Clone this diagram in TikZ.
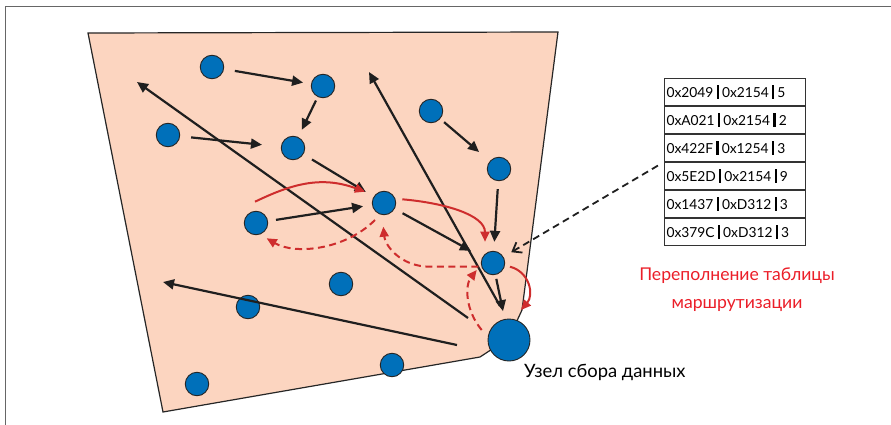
\documentclass[tikz,border=0pt]{standalone}
\usepackage{fontspec}
\setmainfont{Lato}
\usetikzlibrary{arrows.meta}
\definecolor{peach}{RGB}{252,213,192}
\definecolor{nodeblue}{RGB}{0,112,186}
\definecolor{redarr}{RGB}{206,45,45}
\definecolor{redtext}{RGB}{235,30,40}
\newcommand{\sepbar}{\hspace{3.2pt}\rule[-1.5pt]{2.2pt}{13.5pt}\hspace{3.2pt}}
\begin{document}
\begin{tikzpicture}[x=1pt,y=-1pt,
  dot/.style={circle,fill=nodeblue,draw=black!85,line width=0.9pt,minimum size=23.5pt,inner sep=0pt},
  bigdot/.style={dot,minimum size=42pt},
  blk/.style={line width=2.2pt,draw=black!88,-{Triangle[length=11pt,width=10pt]}},
  redsolid/.style={line width=2pt,draw=redarr,-{Triangle[length=10pt,width=9pt]}},
  reddash/.style={redsolid,dash pattern=on 7pt off 4.5pt},
  tabrow/.style={draw=black!80,line width=1pt,minimum width=141pt,minimum height=27pt,inner sep=0pt,text width=137pt,align=left,font=\fontsize{13.8pt}{15pt}\selectfont},
  lbl/.style={font=\fontsize{18.4pt}{21pt}\selectfont,inner sep=0pt}
]
\useasboundingbox (0,0) rectangle (891,425);
% frame
\draw[black!60,line width=1pt] (5.5,425) -- (5.5,6.5) -- (891,6.5);
% area
\filldraw[fill=peach,draw=black!85,line width=1.2pt] (88,33) -- (558,32) -- (522,310) -- (509,338) -- (480,357) -- (163,412) -- cycle;

% nodes
\node[dot] (n1) at (212,67) {};
\node[dot] (n2) at (323,86) {};
\node[dot] (n3) at (168,135) {};
\node[dot] (n4) at (293,148) {};
\node[dot] (n5) at (431,111) {};
\node[dot] (n6) at (499,169) {};
\node[dot] (n7) at (384,203) {};
\node[dot] (n8) at (256,223) {};
\node[dot] (n9) at (493,263) {};
\node[dot] (n10) at (341,284) {};
\node[dot] (n11) at (248,307) {};
\node[dot] (n13) at (392,365) {};
\node[dot] (n14) at (197,384) {};

\coordinate (tl) at (137,82);
\coordinate (ml) at (163,282);
\coordinate (tm) at (369,72);
\coordinate (s1) at (468,318);
\coordinate (s2) at (457,345);
\coordinate (tipb) at (500,306);

% black arrows
\draw[blk,shorten <=11pt,shorten >=8pt] (n1) -- (n2);
\draw[blk,shorten <=4pt,shorten >=8pt] (n2) -- (n4);
\draw[blk,shorten <=11pt,shorten >=19pt] (n3) -- (n4);
\draw[blk,shorten <=5pt,shorten >=14pt] (n5) -- (n6);
\draw[blk,shorten <=10pt,shorten >=9pt] (n4) -- (n7);
\draw[blk,shorten <=8pt,shorten >=9pt] (n8) -- (n7);
\draw[blk,shorten <=9pt,shorten >=13pt] (n7) -- (n9);
\draw[blk,shorten <=8pt,shorten >=9pt] (n6) -- (n9);
\draw[blk] (s1) -- (tl);
\draw[blk] (s2) -- (ml);
\draw[blk] (tipb) -- (tm);

% big node
\node[bigdot] (big) at (509,340) {};
\draw[blk,shorten <=4pt,shorten >=8pt] (n9) -- (big);

% red arrows
\draw[redsolid] (255,201.7) .. controls (290,185) and (320,175) .. (365,191.7);
\draw[redsolid] (402.3,199.3) .. controls (445,203) and (485,215) .. (485,241.7);
\draw[redsolid] (510,266.7) .. controls (530,272) and (534,295) .. (521,310);
\draw[reddash] (375,220) .. controls (345,250) and (295,255) .. (266.7,238.3);
\draw[reddash] (478.3,266.7) -- (430,266.7) .. controls (400,266.7) and (385,245) .. (383.3,226.7);
\draw[reddash] (481.7,330) .. controls (465,310) and (465,285) .. (476.7,270);

% table
\node[tabrow,anchor=north west] (r1) at (664,78) {0x2049\sepbar0x2154\sepbar5};
\node[tabrow,anchor=north] (r2) at (r1.south) {0xA021\sepbar0x2154\sepbar2};
\node[tabrow,anchor=north] (r3) at (r2.south) {0x422F\sepbar0x1254\sepbar3};
\node[tabrow,anchor=north] (r4) at (r3.south) {0x5E2D\sepbar0x2154\sepbar9};
\node[tabrow,anchor=north] (r5) at (r4.south) {0x1437\sepbar0xD312\sepbar3};
\node[tabrow,anchor=north] (r6) at (r5.south) {0x379C\sepbar0xD312\sepbar3};

\draw[line width=1.8pt,draw=black!88,dash pattern=on 7pt off 4.5pt,-{Straight Barb[length=8pt,width=12pt]},shorten <=7pt,shorten >=9pt] (r3.south west) -- (n9);

% labels
\node[lbl,anchor=west] (lab) at (524,372) {Узел сбора данных};
\node[lbl,text=redtext,align=center,font=\fontsize{17.6pt}{28pt}\selectfont] (ovf) at (737,290) {Переполнение таблицы\\маршрутизации};
\end{tikzpicture}
\end{document}
